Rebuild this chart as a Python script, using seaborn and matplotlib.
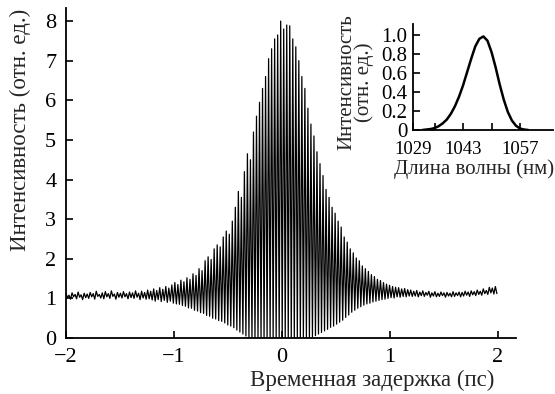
import numpy as np
import pandas as pd
import matplotlib
matplotlib.use("Agg")
import matplotlib.pyplot as plt
import seaborn as sns

# ---- data: interferometric autocorrelation (fringe maxima / minima)
t_start = -2.0          # ps, first fringe
fringe_step = 0.028     # ps between visible fringe maxima
peak_vals = [
    1.12, 1.08, 1.14, 1.10, 1.16, 1.09, 1.13, 1.11, 1.15, 1.12, 1.18, 1.10, 1.14, 1.17,
    1.12, 1.19, 1.11, 1.15, 1.13, 1.17, 1.12, 1.16, 1.14, 1.19, 1.13, 1.18, 1.15, 1.21,
    1.18, 1.24, 1.20, 1.27, 1.23, 1.30, 1.26, 1.34,
    1.40, 1.35, 1.46, 1.42, 1.52, 1.48, 1.62, 1.58, 1.75, 1.70, 1.95, 2.05, 1.98, 2.25,
    2.35, 2.30, 2.55, 2.70, 2.62, 2.95, 3.30, 3.70, 3.55, 4.20, 4.65, 4.50, 5.20, 5.60,
    5.95, 6.30, 6.60, 7.05, 7.30, 7.55, 7.65, 8.00, 7.80, 7.90, 7.88, 7.55, 7.35, 7.00,
    6.60, 6.30, 5.80, 5.40, 5.10, 4.70, 4.40, 4.10, 3.75, 3.55, 3.30, 3.15, 2.95, 2.80,
    2.55, 2.42, 2.25, 2.15, 2.02, 1.95, 1.82, 1.75, 1.68, 1.60, 1.55, 1.48, 1.45, 1.40,
    1.36, 1.33, 1.30, 1.28, 1.27, 1.24, 1.25, 1.22, 1.21,
    1.18, 1.20, 1.16, 1.19, 1.15, 1.18, 1.14, 1.17, 1.13, 1.16, 1.14, 1.15, 1.13, 1.17,
    1.14, 1.16, 1.15, 1.18, 1.16, 1.19, 1.17, 1.21, 1.18, 1.24, 1.20, 1.28, 1.26, 1.30,
]
trough_vals = [
    1.02, 0.98, 1.04, 0.99, 1.03, 0.97, 1.02, 1.00, 1.04, 0.98, 1.05, 1.01, 0.99, 1.04,
    1.00, 1.05, 0.98, 1.03, 1.01, 1.04, 0.99, 1.02, 1.00, 1.03, 0.97, 1.01, 0.98, 0.99,
    0.96, 0.93, 0.97, 0.92, 0.95, 0.90, 0.93, 0.88,
    0.86, 0.85, 0.82, 0.80, 0.76, 0.75, 0.70, 0.68, 0.64, 0.62, 0.57, 0.55, 0.50, 0.48,
    0.44, 0.42, 0.38, 0.33, 0.30, 0.26, 0.20, 0.15, 0.10, 0.05, 0.02, 0.00, 0.00, 0.01,
    0.00, 0.00, 0.02, 0.00, 0.00, 0.01, 0.00, 0.00, 0.00, 0.01, 0.00, 0.00, 0.02, 0.00,
    0.00, 0.01, 0.00, 0.03, 0.06, 0.10, 0.14, 0.18, 0.22, 0.27, 0.30, 0.35, 0.40, 0.45,
    0.52, 0.58, 0.65, 0.70, 0.75, 0.79, 0.83, 0.86, 0.88, 0.91, 0.93, 0.95, 0.97, 0.98,
    1.00, 1.02, 1.01, 1.04, 1.03, 1.05, 1.04, 1.06, 1.05,
    1.06, 1.04, 1.07, 1.05, 1.08, 1.03, 1.06, 1.04, 1.05, 1.07, 1.03, 1.06, 1.04, 1.05,
    1.07, 1.04, 1.06, 1.08, 1.05, 1.09, 1.07, 1.10, 1.08, 1.12, 1.10, 1.14, 1.11, 1.12,
]

# ---- data: spectrum (inset)
wavelength = [1033, 1034, 1035, 1036, 1037, 1038, 1039, 1040, 1041, 1042, 1043, 1044,
              1045, 1046, 1047, 1048, 1049, 1050, 1051, 1052, 1053, 1054, 1055, 1056,
              1057, 1058, 1059]
spectrum = [0.0, 0.005, 0.01, 0.02, 0.04, 0.07, 0.11, 0.17, 0.25, 0.35, 0.47, 0.61,
            0.75, 0.88, 0.96, 0.985, 0.94, 0.82, 0.66, 0.48, 0.32, 0.19, 0.10, 0.045,
            0.015, 0.005, 0.0]

main_xticks = [-2, -1, 0, 1, 2]
main_xticklabels = ["\u22122", "\u22121", "0", "1", "2"]
main_yticks = [0, 1, 2, 3, 4, 5, 6, 7, 8]
inset_xticks = [1030.7, 1036, 1043, 1050, 1057]
inset_xticklabels = ["1029", "", "1043", "", "1057"]
inset_yticks = [0, 0.2, 0.4, 0.6, 0.8, 1.0]
inset_yticklabels = ["0", "0.2", "0.4", "0.6", "0.8", "1.0"]

# ---- build trace (alternate maxima and minima)
n = len(peak_vals)
values = np.empty(2 * n)
values[0::2] = peak_vals
values[1::2] = trough_vals
times = t_start + np.arange(2 * n) * (fringe_step / 2)
df = pd.DataFrame({"t": times, "I": values})
spec_df = pd.DataFrame({"wl": wavelength, "S": spectrum})

sns.set_theme(style="ticks")
plt.rcParams["font.family"] = ["Liberation Serif", "DejaVu Serif"]
plt.rcParams["axes.unicode_minus"] = True

W, H = 555, 394
fig = plt.figure(figsize=(W / 100, H / 100), dpi=100)
ax = fig.add_axes([66 / W, 1 - 338 / H, (516 - 66) / W, (338 - 8) / H])
sns.lineplot(data=df, x="t", y="I", ax=ax, color="black", lw=0.9,
             estimator=None, errorbar=None, sort=False)
ax.set_xlim(-2, 2.167)
ax.set_ylim(0, 8.33)
ax.set_xticks(main_xticks)
ax.set_xticklabels(main_xticklabels)
ax.set_yticks(main_yticks)
ax.tick_params(direction="in", length=5, width=1.2, labelsize=16, colors="black", pad=7)
for s in ["top", "right"]:
    ax.spines[s].set_visible(False)
for s in ["left", "bottom"]:
    ax.spines[s].set_linewidth(1.3)
    ax.spines[s].set_color("black")
ax.set_xlabel("Временная задержка (пс)", fontsize=16.5)
ax.xaxis.set_label_coords((372 - 66) / (516 - 66), -(370 - 338) / (338 - 8))
ax.set_ylabel("Интенсивность (отн. ед.)", fontsize=16.5)
ax.yaxis.set_label_coords(-(66 - 31) / (516 - 66), (338 - 130) / (338 - 8))

# ---- inset
ix0, ix1, iy0, iy1 = 413, 553, 130, 24
iw, ih = ix1 - ix0, iy0 - iy1
ins = fig.add_axes([ix0 / W, 1 - iy0 / H, iw / W, ih / H])
sns.lineplot(data=spec_df, x="wl", y="S", ax=ins, color="black", lw=1.8,
             estimator=None, errorbar=None)
ins.set_xlim(1030.7, 1065.1)
ins.set_ylim(0, 1.116)
ins.set_xticks(inset_xticks)
ins.set_xticklabels(inset_xticklabels)
ins.set_yticks(inset_yticks)
ins.set_yticklabels(inset_yticklabels)
ins.tick_params(direction="in", length=5, width=1.2, labelsize=15, colors="black", pad=4)
ins.tick_params(axis="x", labelsize=13.5, pad=8)
for s in ["top", "right"]:
    ins.spines[s].set_visible(False)
for s in ["left", "bottom"]:
    ins.spines[s].set_linewidth(1.3)
    ins.spines[s].set_color("black")
ins.set_xlabel("Длина волны (нм)", fontsize=15)
ins.xaxis.set_label_coords((474 - ix0) / iw, -(159 - iy0) / ih)
ins.set_ylabel("Интенсивность\n(отн. ед.)", fontsize=15, linespacing=0.85)
ins.yaxis.set_label_coords(-(ix0 - 374) / iw, (iy0 - 82) / ih)

fig.savefig("out.png", dpi=100)
